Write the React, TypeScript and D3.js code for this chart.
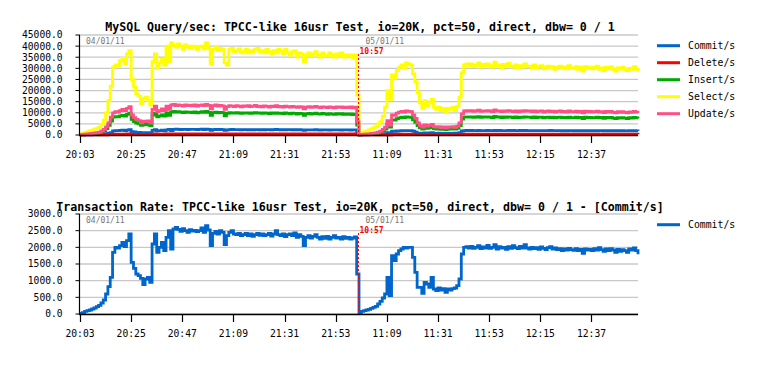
import React from "react";
import * as d3 from "d3";

// minute offsets 0..240 ; the second run starts at minute 120 (10:57)
const tickMinutes = [0, 22, 44, 66, 88, 110, 132, 154, 176, 198, 220];
const tickLabels = ["20:03", "20:25", "20:47", "21:09", "21:31", "21:53", "11:09", "11:31", "11:53", "12:15", "12:37"];
const breakMinute = 120;
const breakLabel = "10:57";
const dateLabels = ["04/01/11", "05/01/11"];

const topTicks = [0, 5000, 10000, 15000, 20000, 25000, 30000, 35000, 40000, 45000];
const bottomTicks = [0, 500, 1000, 1500, 2000, 2500, 3000];

const seriesNames = ["Commit/s", "Delete/s", "Insert/s", "Select/s", "Update/s"];
const seriesColors = ["#0066cc", "#ff0000", "#00aa00", "#ffff00", "#ff4f86"];

const commit = [
  20,40,80,100,120,150,180,220,260,330,
  420,600,820,1100,1850,2000,1980,2050,2150,2020,
  2200,2400,1550,1370,1200,1150,1070,880,1050,1100,
  950,2100,2400,1850,2000,2150,1900,2300,2500,1950,
  2550,2600,2540,2480,2560,2500,2450,2530,2490,2510,
  2470,2500,2580,2450,2650,2520,2050,2420,2480,2400,
  2500,2450,2080,2350,2450,2500,2400,2380,2420,2350,
  2380,2420,2350,2400,2330,2380,2420,2360,2400,2350,
  2380,2420,2340,2400,2500,2380,2350,2400,2320,2380,
  2400,2350,2430,2300,2380,2330,2050,2300,2350,2280,
  2330,2380,2300,2250,2320,2270,2330,2250,2300,2350,
  2280,2300,2250,2320,2270,2300,2250,2280,2310,1200,
  30,80,100,120,140,170,200,230,300,380,
  480,600,1100,550,1750,1600,1800,1900,1950,2000,
  1980,2000,2000,1700,1250,800,800,620,950,900,
  800,1100,750,700,780,720,760,650,750,720,
  760,780,850,1050,1800,2000,2020,1980,2030,1970,
  2000,2050,1960,2010,1980,2060,1970,2000,2080,1950,
  2020,1980,2000,1940,2020,1970,2050,1990,1960,2030,
  1980,2080,1980,1950,2000,1960,1990,1940,2010,1970,
  1930,1990,2020,1950,1980,1930,1960,1900,1950,1920,
  1970,1930,1910,1960,1900,1940,1820,1950,1920,1940,
  1900,1960,1920,1990,1930,1880,1950,1900,1960,1920,
  1850,1940,1880,1930,1900,1850,1950,1920,1980,1900,
  1790,
];

const deletes = [
  5,10,15,20,25,30,35,45,50,65,
  85,120,170,260,380,400,390,420,430,400,
  450,470,310,270,240,230,210,180,210,220,
  190,420,480,370,400,430,380,500,390,510,
  520,510,500,520,510,500,490,510,500,520,
  500,510,520,490,530,500,410,490,500,480,
  500,490,420,470,490,500,480,480,490,470,
  480,490,470,480,470,480,490,470,480,470,
  480,490,470,480,500,480,470,480,460,480,
  480,470,490,460,480,470,410,460,470,460,
  470,480,460,450,470,460,470,450,460,470,
  460,460,450,470,460,460,450,460,470,240,
  5,15,20,25,30,35,40,45,60,75,
  95,120,220,110,350,320,360,380,390,400,
  400,400,400,340,250,160,160,125,190,180,
  160,220,150,140,155,145,150,130,150,145,
  150,155,170,210,360,400,405,395,405,395,
  400,410,390,400,395,410,395,400,415,390,
  405,395,400,390,405,395,410,400,390,405,
  395,415,395,390,400,390,400,390,400,395,
  385,400,405,390,395,385,390,380,390,385,
  395,385,380,390,380,390,365,390,385,390,
  380,390,385,400,385,375,390,380,390,385,
  370,390,375,385,380,370,390,385,395,380,
  360,
];

const inserts = [
  150,250,300,400,450,550,700,850,1000,1400,
  2000,2900,4300,6300,8000,8300,8200,8600,8800,8500,
  9300,9800,7000,6000,5400,5000,4300,4800,4600,4900,
  4200,9000,9800,8200,8600,9000,8500,10000,8800,10300,
  10600,10300,10500,10300,10100,10400,10200,10300,10100,10400,
  10000,10200,10500,10200,10600,10200,8800,10100,10300,10000,
  10200,10100,8600,9700,10100,9900,9800,10100,9900,9700,
  10000,9800,10000,9700,9900,10100,9800,9900,9700,10000,
  9800,9600,9900,9700,10000,9700,9800,9600,9900,9700,
  9500,9800,9700,9400,9700,9600,8800,9500,9700,9400,
  9600,9800,9500,9400,9700,9500,9300,9600,9400,9300,
  9600,9400,9600,9300,9500,9300,9500,9200,9400,4500,
  100,200,280,350,430,550,650,780,1000,1300,
  1900,2700,5000,3500,6800,6700,7400,7700,8000,7800,
  8100,8000,7900,6800,5700,4200,3200,2700,3400,3000,
  3300,3600,2900,2700,2900,2500,2800,2400,2700,2600,
  2900,2600,3000,4200,7200,8000,8200,8000,8200,7900,
  8100,8300,7900,8100,8000,8200,8000,7800,8400,8000,
  8100,7800,8100,7900,8200,8000,7800,8100,7800,8000,
  7900,8200,8000,8000,7800,8100,7800,8000,8000,7700,
  7900,8000,7800,8000,7700,7900,8000,7800,7900,7700,
  8000,7800,7800,8000,7700,7900,7400,8000,7800,7900,
  7700,7800,8000,7700,7900,7500,7900,7700,7900,7600,
  7400,7800,7600,7800,7600,7400,7800,7600,7900,7700,
  7400,
];

const selects = [
  500,800,1200,1500,1800,2200,2600,3000,3500,4800,
  6700,10000,15500,22000,30500,31500,31000,33500,34500,32000,
  36500,38000,25000,21500,18500,17500,14000,16500,17000,15500,
  13500,33000,36500,30000,32500,34000,31500,40000,33000,41500,
  40500,39500,41000,40000,38500,40500,39500,39000,40000,39500,
  38500,39500,40000,38800,41500,39000,32000,38500,39500,38000,
  39000,38500,32500,31500,38500,39000,37500,38000,38800,37000,
  37500,38500,37000,38000,37500,38500,39000,37500,38000,37000,
  38500,37500,36500,38000,37000,38500,37800,36500,38500,37000,
  36000,37500,38000,35000,37000,36500,33000,36000,37000,35500,
  36500,37500,36000,35000,37000,36000,35500,37000,36000,35000,
  36500,35500,37000,35000,36000,35500,36000,34500,36000,18000,
  600,1000,1500,1800,2300,2700,3300,3800,5000,6000,
  8500,12500,20000,16000,27000,25500,29000,30500,31500,30000,
  32500,32000,31500,27500,24000,19000,14500,12000,15500,13000,
  14500,16000,12500,11500,12500,11000,12000,10500,12000,11500,
  12500,11000,13000,17000,28000,31500,32000,31000,32000,30800,
  31500,32500,30500,31800,31000,32000,31200,30500,32800,31000,
  31500,30200,31800,30800,32200,31000,30500,31500,30000,31200,
  30600,32000,30800,31000,30200,31500,30000,30800,31200,29800,
  30500,31000,30200,30800,29500,30500,31000,30000,30600,29800,
  31200,30200,30000,30800,29500,30500,28800,30800,30000,30500,
  29800,30400,31000,29500,30200,29000,30500,29800,30600,29500,
  28800,30200,29600,30500,29500,29000,30000,29500,30800,29800,
  28500,
];

const updates = [
  200,300,400,500,600,700,900,1100,1300,1800,
  2500,3700,5500,8000,10000,10500,10300,11000,11500,11000,
  12000,12800,9000,7800,7000,6500,5500,6200,6000,6300,
  5500,11500,13000,10500,11000,11800,11000,13000,11500,13500,
  13800,13200,13600,13300,13000,13500,13200,13400,13100,13500,
  13000,13300,13600,13200,13800,13300,11800,13200,13500,13000,
  13300,13100,11500,12800,13200,13000,12800,13200,13000,12700,
  13100,12900,13200,12800,13000,13300,12800,13000,12700,13100,
  12900,12600,13000,12800,13200,12700,12900,12600,13000,12800,
  12500,12900,12700,12400,12800,12600,11800,12500,12800,12400,
  12600,12900,12500,12300,12700,12500,12300,12600,12400,12200,
  12600,12400,12700,12300,12500,12300,12600,12200,12500,6000,
  150,250,350,450,550,700,850,1000,1300,1700,
  2500,3500,6500,4500,9000,8800,9800,10300,10600,10300,
  10800,10600,10500,9000,7500,5500,4200,3500,4500,4000,
  4300,4800,3800,3500,3800,3300,3700,3200,3600,3500,
  3800,3400,4000,5500,9500,10800,11000,10700,11000,10600,
  10900,11200,10600,10900,10700,11000,10800,10500,11300,10700,
  10900,10500,10900,10600,11000,10700,10500,10900,10400,10800,
  10600,11000,10700,10800,10500,10900,10400,10700,10800,10300,
  10600,10800,10500,10700,10300,10600,10800,10400,10600,10300,
  10800,10500,10400,10700,10300,10600,10000,10700,10400,10600,
  10300,10500,10700,10300,10500,10100,10600,10300,10600,10200,
  10000,10500,10200,10500,10200,10000,10400,10200,10600,10300,
  9900,
];

const topTitle = "MySQL Query/sec: TPCC-like 16usr Test, io=20K, pct=50, direct, dbw= 0 / 1";
const bottomTitle = "Transaction Rate: TPCC-like 16usr Test, io=20K, pct=50, direct, dbw= 0 / 1 - [Commit/s]";

const MONO = "'DejaVu Sans Mono', monospace";

type Series = { name: string; color: string; values: number[] };

function Panel(props: {
  top: number;
  bottom: number;
  yMax: number;
  ticks: number[];
  title: string;
  titleY: number;
  series: Series[];
  legend: Series[];
}) {
  const { top, bottom, yMax, ticks, title, titleY, series, legend } = props;
  const x = d3.scaleLinear().domain([0, 240]).range([80, 638]);
  const y = d3.scaleLinear().domain([0, yMax]).range([bottom, top]);
  const line = d3
    .line<number>()
    .x((_, i) => x(i))
    .y((d) => y(d))
    .curve(d3.curveStepAfter);
  const xb = Math.round(x(breakMinute)) - 0.5;
  return (
    <g>
      <text x={360} y={titleY} textAnchor="middle" fontFamily={MONO} fontWeight="bold" fontSize={11.6} fill="#000">
        {title}
      </text>
      {ticks.map((t) => (
        <g key={t}>
          <line x1={80} x2={638} y1={y(t)} y2={y(t)} stroke="#c8c8c8" strokeWidth={1.3} />
          <line x1={75.5} x2={80} y1={y(t)} y2={y(t)} stroke="#000" strokeWidth={1} />
          <text x={62.5} y={y(t)} dy="0.36em" textAnchor="end" fontFamily={MONO} fontSize={9.6} fill="#000">
            {t.toFixed(1)}
          </text>
        </g>
      ))}
      <text x={86} y={top + 9.3} fontFamily={MONO} fontSize={8} fill="#777">
        {dateLabels[0]}
      </text>
      <text x={xb + 7} y={top + 9.3} fontFamily={MONO} fontSize={8} fill="#777">
        {dateLabels[1]}
      </text>
      {series.map((s) => (
        <path key={s.name} d={line(s.values) || ""} fill="none" stroke={s.color} strokeWidth={2.8} />
      ))}
      <line x1={xb} x2={xb} y1={top + 19} y2={bottom} stroke="#ff0000" strokeWidth={1} strokeDasharray="2,2" />
      <text x={xb + 1} y={top + 19} fontFamily={MONO} fontWeight="bold" fontSize={8} fill="#ff0000">
        {breakLabel}
      </text>
      <line x1={79.5} x2={79.5} y1={top} y2={bottom + 0.5} stroke="#000" strokeWidth={1.2} />
      <line x1={79} x2={638} y1={bottom + 0.5} y2={bottom + 0.5} stroke="#000" strokeWidth={1.4} />
      {tickMinutes.map((m, i) => (
        <g key={m}>
          <line x1={Math.round(x(m)) + 0.5} x2={Math.round(x(m)) + 0.5} y1={bottom} y2={bottom + 8} stroke="#000" strokeWidth={1.2} />
          <text x={x(m)} y={bottom + 22.5} textAnchor="middle" fontFamily={MONO} fontSize={9.7} fill="#000">
            {tickLabels[i]}
          </text>
        </g>
      ))}
      {legend.map((s, i) => (
        <g key={s.name}>
          <line x1={657} x2={680} y1={top + 10.7 + i * 17} y2={top + 10.7 + i * 17} stroke={s.color} strokeWidth={3} />
          <text x={688} y={top + 10.7 + i * 17} dy="0.36em" fontFamily={MONO} fontSize={9.8} fill="#000">
            {s.name}
          </text>
        </g>
      ))}
    </g>
  );
}

export default function App() {
  const valuesList = [commit, deletes, inserts, selects, updates];
  const all: Series[] = seriesNames.map((n, i) => ({ name: n, color: seriesColors[i], values: valuesList[i] }));
  return (
    <svg
      width={771}
      height={365}
      viewBox="0 0 771 365"
      style={{ position: "absolute", left: 0, top: 0, background: "#fff" }}
    >
      <rect x={0} y={0} width={771} height={365} fill="#fff" />
      <Panel top={35} bottom={135} yMax={45000} ticks={topTicks} title={topTitle} titleY={31} series={all} legend={all} />
      <Panel
        top={214}
        bottom={314}
        yMax={3000}
        ticks={bottomTicks}
        title={bottomTitle}
        titleY={210.7}
        series={[all[0]]}
        legend={[all[0]]}
      />
    </svg>
  );
}
